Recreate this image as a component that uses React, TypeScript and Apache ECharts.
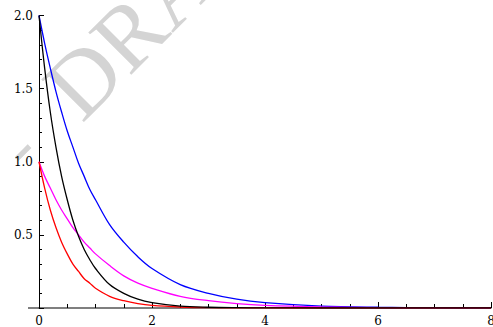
import React, { useEffect, useRef } from 'react';
import * as echarts from 'echarts';

const tValues = [0, 0.1, 0.2, 0.3, 0.4, 0.5, 0.6, 0.7, 0.8, 0.9, 1.0, 1.25, 1.5, 1.75, 2, 2.5, 3, 3.5, 4, 5, 6, 7, 8];
const blueValues = [2.0, 1.81, 1.64, 1.48, 1.34, 1.21, 1.1, 0.99, 0.9, 0.81, 0.74, 0.57, 0.45, 0.35, 0.27, 0.16, 0.1, 0.06, 0.037, 0.013, 0.005, 0.002, 0.001];
const magentaValues = [1.0, 0.9, 0.82, 0.74, 0.67, 0.61, 0.55, 0.5, 0.45, 0.41, 0.37, 0.29, 0.22, 0.17, 0.135, 0.08, 0.05, 0.03, 0.018, 0.007, 0.002, 0.001, 0.0003];
const blackValues = [2.0, 1.64, 1.34, 1.1, 0.9, 0.74, 0.6, 0.49, 0.4, 0.33, 0.27, 0.16, 0.1, 0.06, 0.037, 0.013, 0.005, 0.002, 0.001, 0.0001, 0, 0, 0];
const redValues = [1.0, 0.82, 0.67, 0.55, 0.45, 0.37, 0.3, 0.25, 0.2, 0.17, 0.135, 0.08, 0.05, 0.03, 0.018, 0.007, 0.002, 0.001, 0.0003, 0, 0, 0, 0];

const xTicks = { min: 0, max: 8, interval: 2 };
const yTicks = { min: 0, max: 2, interval: 0.5 };
const watermarkMain = 'DRAFT';
const watermarkDash = '-';

const pairs = (vals: number[]) => vals.map((v, i) => [tValues[i], v]);

export default function App() {
  const ref = useRef<HTMLDivElement>(null);
  useEffect(() => {
    const chart = echarts.init(ref.current!, null, { renderer: 'svg' });
    const serif = 'DejaVu Serif';
    const mkSeries = (name: string, vals: number[], color: string, z: number) => ({
      name,
      type: 'line',
      data: pairs(vals),
      showSymbol: false,
      smooth: 0.35,
      z,
      lineStyle: { color, width: 1.3 },
      itemStyle: { color },
      silent: true,
    });
    chart.setOption({
      animation: false,
      backgroundColor: '#fff',
      grid: { left: 39, right: 2, top: 15.5, bottom: 19, containLabel: false, outerBoundsMode: 'none' },
      xAxis: {
        type: 'value',
        min: xTicks.min,
        max: xTicks.max,
        interval: xTicks.interval,
        axisLine: { show: true, onZero: false, lineStyle: { color: '#555', width: 1.5 } },
        axisTick: { show: true, inside: true, length: 6, lineStyle: { color: '#000', width: 1 } },
        minorTick: { show: true, splitNumber: 4, length: 4, lineStyle: { color: '#000', width: 1 } },
        splitLine: { show: false },
        axisLabel: { color: '#000', fontFamily: serif, fontSize: 12, margin: 7, showMaxLabel: true },
      },
      yAxis: {
        type: 'value',
        min: yTicks.min,
        max: yTicks.max,
        interval: yTicks.interval,
        axisLine: { show: true, lineStyle: { color: '#000', width: 1 } },
        axisTick: { show: true, inside: true, length: 5, lineStyle: { color: '#000', width: 1 } },
        minorTick: { show: true, splitNumber: 5, length: 3, lineStyle: { color: '#000', width: 1 } },
        splitLine: { show: false },
        axisLabel: {
          color: '#000',
          fontFamily: serif,
          fontSize: 12,
          margin: 6,
          formatter: (v: number) => (v === 0 ? '' : v.toFixed(1)),
        },
      },
      graphic: [
        {
          type: 'text',
          x: 60,
          y: 102,
          rotation: Math.PI / 4,
          z: -10,
          silent: true,
          style: {
            text: watermarkMain,
            font: '92px "Liberation Serif"',
            fill: '#d4d4d4',
            textAlign: 'left',
            textVerticalAlign: 'middle',
          },
        },
        {
          type: 'text',
          x: 10,
          y: 156,
          rotation: Math.PI / 4,
          z: -10,
          silent: true,
          style: {
            text: watermarkDash,
            font: '70px "Liberation Serif"',
            fill: '#d4d4d4',
            textAlign: 'left',
            textVerticalAlign: 'middle',
          },
        },
        {
          type: 'line',
          z: 5,
          silent: true,
          shape: { x1: 28, y1: 308, x2: 39, y2: 308 },
          style: { stroke: '#555', lineWidth: 1.5 },
        },
      ],
      series: [
        mkSeries('blue', blueValues, '#0000ff', 2),
        mkSeries('magenta', magentaValues, '#ff00ff', 3),
        mkSeries('red', redValues, '#ff0000', 4),
        mkSeries('black', blackValues, '#000000', 5),
      ],
    });
    return () => chart.dispose();
  }, []);
  return <div ref={ref} style={{ position: 'absolute', left: 0, top: 0, width: 493, height: 327 }} />;
}
